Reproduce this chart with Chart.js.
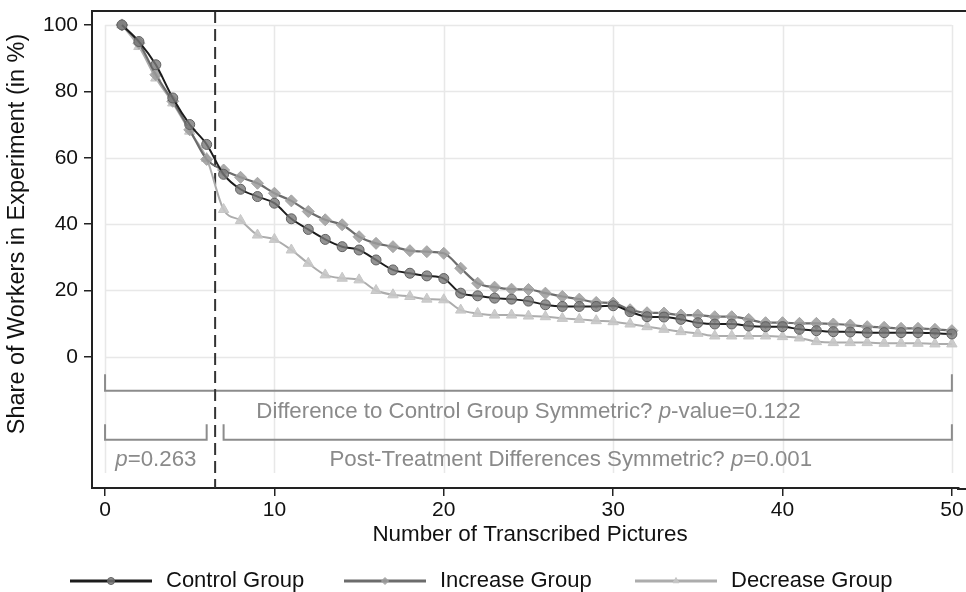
<!DOCTYPE html>
<html>
<head>
<meta charset="utf-8">
<script src="https://cdn.jsdelivr.net/npm/chart.js@4.4.1/dist/chart.umd.min.js"></script>
<style>
  html, body { margin: 0; padding: 0; background: #fff; }
  #wrap { width: 966px; height: 592px; }
</style>
</head>
<body>
<div id="wrap"><canvas id="chart" width="966" height="592"></canvas></div>
<script>
// data
const pictures = [1, 2, 3, 4, 5, 6, 7, 8, 9, 10, 11, 12, 13, 14, 15, 16, 17, 18, 19, 20,
    21, 22, 23, 24, 25, 26, 27, 28, 29, 30, 31, 32, 33, 34, 35, 36, 37, 38, 39, 40,
    41, 42, 43, 44, 45, 46, 47, 48, 49, 50];
const controlGroup = [100, 95, 88, 78, 70, 64, 55, 50.5, 48.3, 46.3, 41.6, 38.4, 35.4, 33.2, 32.2,
    29.2, 26.2, 25.2, 24.4, 23.6, 19.2, 18.4, 17.7, 17.4, 16.8, 15.7, 15.2, 15.2, 15.2, 15.4,
    13.6, 12.1, 12.0, 11.3, 10.3, 9.9, 9.9, 9.3, 9.1, 9.1, 8.3, 7.9, 7.6, 7.5, 7.3,
    7.3, 7.3, 7.3, 7.1, 6.9];
const increaseGroup = [100, 94.5, 85, 77, 68.4, 59.5, 56.3, 54.1, 52.3, 49.3, 47.0, 43.8, 41.3, 39.8, 36.2,
    34.2, 33.2, 32.0, 31.7, 31.2, 26.7, 22.2, 21.0, 20.4, 20.3, 19.2, 18.2, 17.4, 16.4, 16.2,
    14.2, 13.3, 13.2, 12.6, 12.6, 12.1, 12.1, 11.3, 10.3, 10.3, 10.1, 10.1, 9.9, 9.6, 9.1,
    8.9, 8.6, 8.6, 8.3, 7.9];
const decreaseGroup = [100, 93.5, 84, 76.5, 68, 59.8, 44.4, 41.1, 36.7, 35.4, 32.2, 28.2, 24.7, 23.7, 23.2,
    20.0, 18.7, 18.2, 17.4, 17.2, 14.1, 13.1, 12.6, 12.6, 12.3, 12.1, 11.6, 11.3, 10.9, 10.6,
    9.9, 9.1, 8.3, 7.6, 7.1, 6.3, 6.3, 6.3, 6.3, 6.1, 5.7, 4.6, 4.3, 4.3, 4.3,
    4.1, 4.1, 4.1, 3.9, 3.9];
const xTicks = [0, 10, 20, 30, 40, 50];
const yTicks = [0, 20, 40, 60, 80, 100];
const seriesNames = ['Control Group', 'Increase Group', 'Decrease Group'];
const treatmentAt = 6.5;

const FONT = "'Liberation Sans', Arial, Helvetica, sans-serif";
const GREY_TXT = '#8a8a8a';

// bracket annotations (data coords)
const brackets = [
    { from: 0, to: 50, y: -10.2, tip: -5.2 },
    { from: 0, to: 6, y: -25, tip: -20.3 },
    { from: 7, to: 50, y: -25, tip: -20.3 }
];
const notes = [
    { x: 25, y: -16.5, parts: [['Difference to Control Group Symmetric? ', false], ['p', true], ['-value=0.122', false]] },
    { x: 3, y: -31, parts: [['p', true], ['=0.263', false]] },
    { x: 27.5, y: -31, parts: [['Post-Treatment Differences Symmetric? ', false], ['p', true], ['=0.001', false]] }
];

function drawRich(ctx, parts, cx, cy, size) {
    let total = 0;
    parts.forEach(p => {
        ctx.font = (p[1] ? 'italic ' : '') + size + 'px ' + FONT;
        total += ctx.measureText(p[0]).width;
    });
    let x = cx - total / 2;
    parts.forEach(p => {
        ctx.font = (p[1] ? 'italic ' : '') + size + 'px ' + FONT;
        ctx.fillText(p[0], x, cy);
        x += ctx.measureText(p[0]).width;
    });
}

const stataBits = {
    id: 'stataBits',
    beforeDatasetsDraw(chart) {
        const { ctx, scales: { x, y } } = chart;
        ctx.save();
        // grid, only over the data region
        ctx.strokeStyle = '#e8e8e8';
        ctx.lineWidth = 1.5;
        const gx0 = x.getPixelForValue(xTicks[0]);
        const gx1 = x.getPixelForValue(xTicks[xTicks.length - 1]);
        yTicks.forEach(v => {
            const py = Math.round(y.getPixelForValue(v)) + 0.5;
            ctx.beginPath(); ctx.moveTo(gx0, py); ctx.lineTo(gx1, py); ctx.stroke();
        });
        const gyTop = y.getPixelForValue(yTicks[yTicks.length - 1]);
        const gyBot = y.getPixelForValue(-35);
        xTicks.forEach(v => {
            const px = Math.round(x.getPixelForValue(v)) + 0.5;
            ctx.beginPath(); ctx.moveTo(px, gyTop); ctx.lineTo(px, gyBot); ctx.stroke();
        });

        // brackets + notes
        ctx.strokeStyle = '#8c8c8c';
        ctx.lineWidth = 2;
        brackets.forEach(b => {
            const x0 = x.getPixelForValue(b.from), x1 = x.getPixelForValue(b.to);
            const yb = y.getPixelForValue(b.y), yt = y.getPixelForValue(b.tip);
            ctx.beginPath();
            ctx.moveTo(x0, yt); ctx.lineTo(x0, yb); ctx.lineTo(x1, yb); ctx.lineTo(x1, yt);
            ctx.stroke();
        });
        ctx.fillStyle = GREY_TXT;
        ctx.textBaseline = 'middle';
        notes.forEach(n => drawRich(ctx, n.parts, x.getPixelForValue(n.x), y.getPixelForValue(n.y), 22.3));

        // treatment line
        ctx.strokeStyle = '#333';
        ctx.lineWidth = 2;
        ctx.setLineDash([12, 6]);
        const tx = x.getPixelForValue(treatmentAt);
        ctx.beginPath(); ctx.moveTo(tx, chart.chartArea.top); ctx.lineTo(tx, chart.chartArea.bottom); ctx.stroke();
        ctx.restore();
    },
    afterDraw(chart) {
        const { ctx, chartArea } = chart;
        ctx.save();
        // top frame + bottom axis run to the canvas edge
        ctx.strokeStyle = '#222';
        ctx.lineWidth = 2;
        ctx.beginPath(); ctx.moveTo(chartArea.left - 1, chartArea.top); ctx.lineTo(chart.width, chartArea.top); ctx.stroke();
        ctx.beginPath(); ctx.moveTo(chartArea.right - 2, chartArea.bottom + 1); ctx.lineTo(chart.width, chartArea.bottom + 1); ctx.stroke();

        ctx.fillStyle = '#111';
        ctx.textAlign = 'center';
        ctx.textBaseline = 'middle';
        // axis titles
        ctx.font = '22.4px ' + FONT;
        ctx.fillText('Number of Transcribed Pictures', 530, 535);
        ctx.save();
        ctx.translate(18, 234);
        ctx.rotate(-Math.PI / 2);
        ctx.font = '23.5px ' + FONT;
        ctx.fillText('Share of Workers in Experiment (in %)', 0, 0);
        ctx.restore();

        // legend
        const starts = [70, 344, 635];
        const ly = 581;
        ctx.textAlign = 'left';
        ctx.font = '22px ' + FONT;
        chart.data.datasets.forEach((ds, i) => {
            const x0 = starts[i], x1 = x0 + 82;
            ctx.strokeStyle = ds.borderColor;
            ctx.lineWidth = 3;
            ctx.beginPath(); ctx.moveTo(x0, ly); ctx.lineTo(x1, ly); ctx.stroke();
            ctx.fillStyle = ds.pointBackgroundColor;
            ctx.strokeStyle = ds.pointBorderColor;
            ctx.lineWidth = 1;
            Chart.helpers.drawPoint(ctx, { pointStyle: ds.pointStyle, radius: 3.5, rotation: 0, borderWidth: 1 }, (x0 + x1) / 2, ly);
            ctx.fillStyle = '#111';
            ctx.fillText(ds.label, x1 + 14, ly);
        });
        ctx.restore();
    }
};

const tickFont = { family: FONT, size: 21 };

new Chart(document.getElementById('chart'), {
    type: 'line',
    data: {
        labels: pictures,
        datasets: [{
            label: seriesNames[0],
            data: pictures.map((p, i) => ({ x: p, y: controlGroup[i] })),
            borderColor: '#1c1c1c',
            borderWidth: 2,
            pointStyle: 'circle',
            pointRadius: 5,
            pointBackgroundColor: 'rgba(120,120,120,0.8)',
            pointBorderColor: '#606060',
            pointBorderWidth: 1,
            cubicInterpolationMode: 'monotone'
        }, {
            label: seriesNames[1],
            data: pictures.map((p, i) => ({ x: p, y: increaseGroup[i] })),
            borderColor: '#6c6c6c',
            borderWidth: 2.2,
            pointStyle: 'rectRot',
            pointRadius: 6,
            pointBackgroundColor: 'rgba(155,155,155,0.85)',
            pointBorderColor: '#a4a4a4',
            pointBorderWidth: 1,
            cubicInterpolationMode: 'monotone'
        }, {
            label: seriesNames[2],
            data: pictures.map((p, i) => ({ x: p, y: decreaseGroup[i] })),
            borderColor: '#acacac',
            borderWidth: 2,
            pointStyle: 'triangle',
            pointRadius: 6,
            pointBackgroundColor: 'rgba(198,198,198,0.9)',
            pointBorderColor: '#c6c6c6',
            pointBorderWidth: 1,
            cubicInterpolationMode: 'monotone'
        }]
    },
    options: {
        responsive: false,
        animation: false,
        layout: { padding: { top: 11, right: 0, left: 0, bottom: 0 } },
        plugins: { legend: { display: false }, tooltip: { enabled: false } },
        scales: {
            x: {
                type: 'linear',
                min: -0.77,
                max: 50.42,
                afterBuildTicks: s => { s.ticks = xTicks.map(v => ({ value: v })); },
                afterFit: s => { s.height = 104; s.paddingLeft = 0; s.paddingRight = 0; },
                grid: { drawOnChartArea: false, tickLength: 8, color: '#222', lineWidth: 1.5 },
                border: { color: '#222', width: 2 },
                ticks: { font: tickFont, color: '#111', padding: 2, maxRotation: 0 }
            },
            y: {
                min: -39.5,
                max: 104.2,
                afterBuildTicks: s => { s.ticks = yTicks.map(v => ({ value: v })); },
                afterFit: s => { s.width = 92; s.paddingTop = 0; s.paddingBottom = 0; },
                grid: { drawOnChartArea: false, tickLength: 8, color: '#222', lineWidth: 1.5 },
                border: { color: '#222', width: 2 },
                ticks: { font: tickFont, color: '#111', padding: 6 }
            }
        }
    },
    plugins: [stataBits]
});
</script>
</body>
</html>
